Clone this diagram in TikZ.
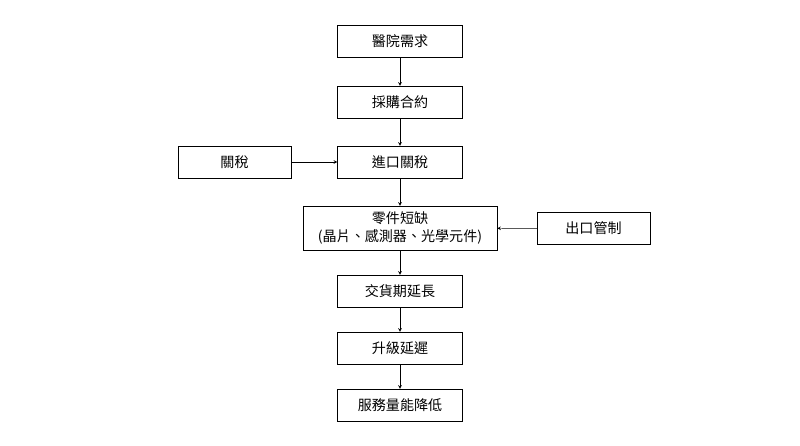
\documentclass[tikz,border=0pt]{standalone}
\usepackage{fontspec}
\setmainfont{Noto Sans CJK TC}
\usetikzlibrary{positioning}
\tikzset{
  box/.style={draw, thin, align=center, font=\fontsize{12}{15}\selectfont,
    minimum height=0.96cm, inner sep=2pt},
  flow/.style={->, >=stealth, thin}
}
\begin{document}
\begin{tikzpicture}[x=0.03cm, y=-0.03cm]
  \useasboundingbox (0,0) rectangle (800,446);

  \node[box, minimum width=3.75cm] (need) at (400,41.5) {醫院需求};
  \node[box, minimum width=3.75cm] (contract) at (400,102) {採購合約};
  \node[box, minimum width=3.75cm] (import) at (400,162) {進口關稅};
  \node[box, minimum width=5.82cm, minimum height=1.32cm] (short) at (400,228)
    {零件短缺\\(晶片、感測器、光學元件)};
  \node[box, minimum width=3.75cm] (delay) at (400,291) {交貨期延長};
  \node[box, minimum width=3.75cm] (upgrade) at (400,348) {升級延遲};
  \node[box, minimum width=3.75cm] (service) at (400,405) {服務量能降低};
  \node[box, minimum width=3.39cm] (tariff) at (234.5,162) {關稅};
  \node[box, minimum width=3.39cm] (export) at (593.5,228.5) {出口管制};

  \draw[flow] (need) -- (contract);
  \draw[flow] (contract) -- (import);
  \draw[flow] (tariff) -- (import);
  \draw[flow] (import) -- (short);
  \draw[flow] (export) -- (short);
  \draw[flow] (short) -- (delay);
  \draw[flow] (delay) -- (upgrade);
  \draw[flow] (upgrade) -- (service);
\end{tikzpicture}
\end{document}
